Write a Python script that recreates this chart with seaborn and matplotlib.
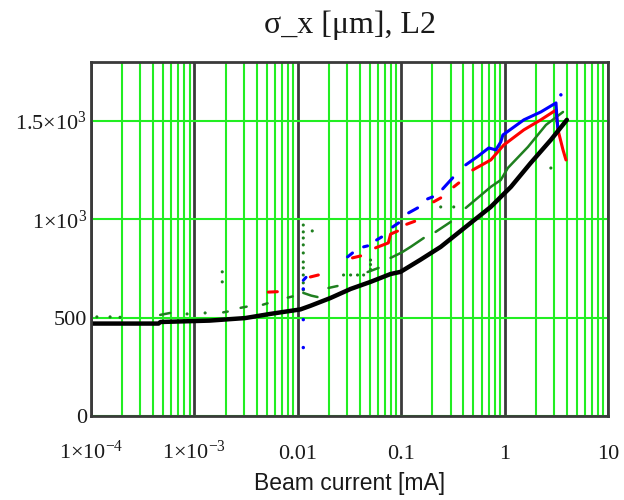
import numpy as np
import pandas as pd
import matplotlib
matplotlib.use("Agg")
import matplotlib.pyplot as plt
from matplotlib.ticker import FixedLocator, FixedFormatter, LogLocator, NullFormatter
import seaborn as sns

# ---- data: beam size sigma_x [um] versus beam current [mA] ----
black_x = [1e-4, 4.5e-4, 4.7e-4, 1.4e-3, 3.1e-3, 5.4e-3, 0.0106, 0.0132, 0.0207,
           0.0324, 0.0505, 0.0789, 0.0986, 0.154, 0.241, 0.47, 0.734, 0.918,
           1.15, 1.79, 2.8, 4.0]
black_y = [470, 470, 478, 485, 498, 519, 542, 560, 600,
           646, 682, 722, 733, 795, 860, 982, 1063, 1114,
           1165, 1287, 1404, 1506]

blue_segments = [
    ([0.0113, 0.0120], [690, 705]),
    ([0.0303, 0.0338], [809, 829]),
    ([0.0433, 0.0473], [860, 865]),
    ([0.0578, 0.0646], [895, 910]),
    ([0.0826, 0.0944], [961, 982]),
    ([0.118, 0.144], [1033, 1058]),
    ([0.180, 0.201], [1104, 1114]),
    ([0.252, 0.315], [1155, 1211]),
    ([0.421, 0.55, 0.703, 0.822, 0.919, 0.962, 1.535, 2.24, 3.14, 3.2, 3.28],
     [1277, 1320, 1363, 1353, 1394, 1429, 1506, 1546, 1592, 1520, 1460]),
]
blue_dots_x = [0.0113, 0.0113, 0.0113, 3.5]
blue_dots_y = [646, 490, 348, 1633]

red_segments = [
    ([5.19e-3, 6.34e-3], [630, 632]),
    ([0.01324, 0.0158], [707, 717]),
    ([0.0338, 0.0405], [804, 814]),
    ([0.0565, 0.075, 0.079, 0.092], [855, 880, 925, 940]),
    ([0.113, 0.135], [975, 990]),
    ([0.206, 0.241], [1089, 1109]),
    ([0.322, 0.360], [1165, 1185]),
    ([0.492, 0.735, 0.859, 0.981, 1.535, 2.24, 3.14, 3.28, 3.67, 3.92],
     [1251, 1302, 1343, 1378, 1455, 1506, 1556, 1455, 1353, 1302]),
]

green_segments = [
    ([4.67e-4, 5.84e-4], [514, 524]),
    ([1.9e-3, 2.1e-3], [527, 531]),
    ([2.8e-3, 3.2e-3], [550, 556]),
    ([4.6e-3, 5.1e-3], [566, 573]),
    ([8.0e-3, 8.9e-3], [602, 608]),
    ([0.0113, 0.0135, 0.0155], [626, 612, 605]),
    ([0.0198, 0.0242], [651, 661]),
    ([0.0473, 0.0604], [732, 753]),
    ([0.0789, 0.1, 0.125, 0.165], [804, 830, 862, 905]),
    ([0.215, 0.301], [936, 987]),
    ([0.421, 0.735, 0.918, 1.074, 1.68, 2.51, 3.67],
     [1058, 1165, 1200, 1261, 1368, 1480, 1546]),
]
green_dots_x = [1.14e-4, 1.53e-4, 1.91e-4, 8.5e-4, 1.27e-3, 1.86e-3, 1.86e-3,
                0.0113, 0.0113, 0.0113, 0.0113, 0.0113, 0.0113, 0.0113, 0.0113,
                0.0113, 0.0113, 0.0138,
                0.0277, 0.0324, 0.0378, 0.0433, 0.0505, 0.0505, 0.0505,
                0.241, 0.322, 2.8]
green_dots_y = [504, 504, 502, 519, 524, 733, 682,
                971, 936, 905, 870, 829, 783, 753, 717, 677, 641, 941,
                717, 717, 717, 717, 770, 793, 745,
                1063, 1063, 1261]

x_ticks = [1e-4, 1e-3, 0.01, 0.1, 1, 10]
x_labels = [r"$1{\times}10^{-4}$", r"$1{\times}10^{-3}$", "0.01", "0.1", "1", "10"]
y_ticks = [0, 500, 1000, 1500]
y_labels = ["0", "500", r"$1{\times}10^{3}$", r"$1.5{\times}10^{3}$"]


def segments_frame(segments):
    rows = []
    for k, (xs, ys) in enumerate(segments):
        for xv, yv in zip(xs, ys):
            rows.append({"current": xv, "sigma": yv, "seg": k})
    return pd.DataFrame(rows)


sns.set_style("white")
plt.rcParams["font.family"] = ["Liberation Serif", "DejaVu Serif"]
plt.rcParams["mathtext.fontset"] = "custom"
plt.rcParams["mathtext.rm"] = "Liberation Serif"
plt.rcParams["mathtext.it"] = "Liberation Serif:italic"
plt.rcParams["mathtext.bf"] = "Liberation Serif:bold"

fig = plt.figure(figsize=(6.24, 5.0), dpi=100)
ax = fig.add_axes([0.1458, 0.168, 0.8286, 0.708])
ax.set_xscale("log")

grid_green = "#22ee22"
frame_col = "#3a3a3a"

# background grid
ax.xaxis.set_major_locator(FixedLocator(x_ticks))
ax.xaxis.set_major_formatter(FixedFormatter(x_labels))
ax.xaxis.set_minor_locator(LogLocator(base=10, subs=range(2, 10), numticks=20))
ax.xaxis.set_minor_formatter(NullFormatter())
ax.yaxis.set_major_locator(FixedLocator(y_ticks))
ax.yaxis.set_major_formatter(FixedFormatter(y_labels))
ax.grid(which="minor", axis="x", color=grid_green, lw=1.5)
ax.grid(which="major", axis="x", color=frame_col, lw=2.0)
ax.grid(which="major", axis="y", color=grid_green, lw=1.5)
ax.set_axisbelow(True)

# traces
for segs, col, lw in [(green_segments, "#1f7f1f", 1.8),
                      (red_segments, "#ff0000", 2.2),
                      (blue_segments, "#0000ff", 2.2)]:
    df = segments_frame(segs)
    sns.lineplot(data=df, x="current", y="sigma", units="seg", estimator=None,
                 sort=False, color=col, lw=lw, ax=ax, legend=False)

sns.scatterplot(x=green_dots_x, y=green_dots_y, color="#1f7f1f", s=5,
                edgecolor="none", ax=ax, legend=False)
sns.scatterplot(x=blue_dots_x, y=blue_dots_y, color="#0000ff", s=6,
                edgecolor="none", ax=ax, legend=False)

sns.lineplot(x=black_x, y=black_y, color="black", lw=3.2, ax=ax,
             estimator=None, sort=False)

ax.set_xlim(1e-4, 10)
ax.set_ylim(0, 1800)

for sp in ax.spines.values():
    sp.set_color(frame_col)
    sp.set_linewidth(2.0)
    sp.set_visible(True)

ax.tick_params(which="both", length=0, labelsize=16, labelcolor="#1a1a1a")
ax.tick_params(axis="x", pad=31)
ax.tick_params(axis="y", pad=3)
# x labels share a common baseline
for lab in ax.get_xticklabels():
    lab.set_verticalalignment("baseline")

ax.set_title("σ_x [μm], L2", fontsize=23, pad=21, color="#1a1a1a")
ax.set_xlabel("Beam current [mA]", fontsize=16.5,
              family=["Liberation Sans", "DejaVu Sans"], color="#1a1a1a")
ax.xaxis.set_label_coords(0.5, -0.157)
ax.set_ylabel("")

fig.savefig("out.png", dpi=100)
